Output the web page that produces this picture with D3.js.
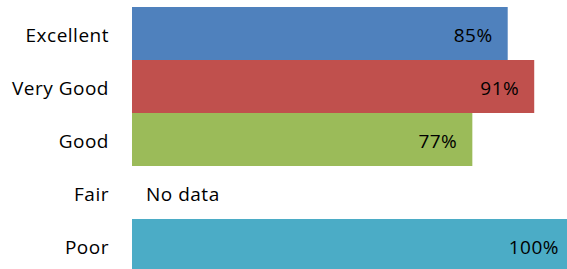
<!DOCTYPE html>
<html lang="en">
<head>
    <meta charset="UTF-8">
    <title>Rating</title>
    <script src="https://cdn.jsdelivr.net/npm/d3@7"></script>
    <style>
        html, body { margin: 0; padding: 0; background: #fff; overflow: hidden; }
        text { font-family: "Open Sans", sans-serif; fill: #000; letter-spacing: 0.5px; }
    </style>
</head>
<body>
<script>
    const categories = ['Excellent', 'Very Good', 'Good', 'Fair', 'Poor']
    const values = [85, 91, 77, null, 100]
    const colors = ['#4F81BD', '#C0504D', '#9BBB59', '#FFFFFF', '#4BACC6']
    const noDataLabel = 'No data'

    const [width, height] = [567, 269]
    const x = d3.scaleLinear().domain([0, 100]).range([132, 574])
    const y = d3.scaleBand().domain(categories).range([7, 272]).padding(0)
    const font = '"Open Sans", sans-serif'
    const fontSize = 19

    const svg = d3.select('body').append('svg')
        .attr('width', width)
        .attr('height', height)

    const rows = categories.map((c, i) => ({ cat: c, v: values[i], color: colors[i] }))

    svg.append('g').selectAll('rect').data(rows.filter(d => d.v != null))
        .enter().append('rect')
        .attr('x', x(0))
        .attr('y', d => y(d.cat))
        .attr('width', d => x(d.v) - x(0))
        .attr('height', y.bandwidth())
        .attr('fill', d => d.color)

    // value labels, right aligned inside the bar
    svg.append('g').selectAll('text').data(rows)
        .enter().append('text')
        .attr('x', d => d.v == null ? x(0) + 14 : x(d.v) - 15)
        .attr('y', d => y(d.cat) + y.bandwidth() / 2 + 2)
        .attr('dy', '0.35em')
        .attr('text-anchor', d => d.v == null ? 'start' : 'end')
        .attr('font-size', fontSize)
        .text(d => d.v == null ? noDataLabel : d.v + '%')

    // category axis
    const axis = d3.axisLeft(y).tickSize(0).tickPadding(0)
    const g = svg.append('g').attr('transform', 'translate(109,0)').call(axis)
    g.select('.domain').remove()
    g.selectAll('text')
        .attr('font-size', fontSize)
        .attr('font-family', font)
        .attr('fill', '#000')
        .attr('dy', '0.35em')
        .attr('y', 2)
</script>
</body>
</html>
